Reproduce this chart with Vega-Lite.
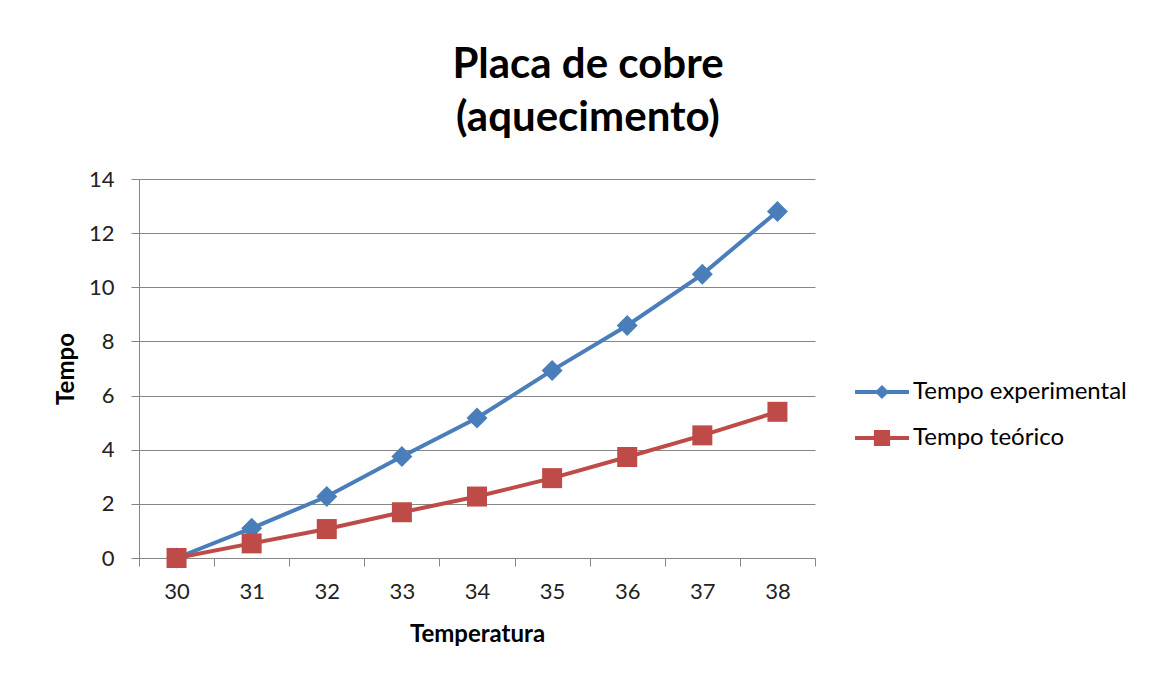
{
  "$schema": "https://vega.github.io/schema/vega-lite/v6.json",
  "autosize": "none",
  "width": 676,
  "height": 379,
  "padding": {"left": 139, "top": 179, "right": 353, "bottom": 117},
  "background": "white",
  "title": {
    "text": ["Placa de cobre", "(aquecimento)"],
    "font": "Lato",
    "fontSize": 42,
    "fontWeight": "bold",
    "color": "#000000",
    "anchor": "middle",
    "frame": "group",
    "dx": 111,
    "offset": 28,
    "lineHeight": 53
  },
  "data": {
    "values": [
      {"t": "30", "serie": "Tempo experimental", "v": 0},
      {"t": "31", "serie": "Tempo experimental", "v": 1.1},
      {"t": "32", "serie": "Tempo experimental", "v": 2.27},
      {"t": "33", "serie": "Tempo experimental", "v": 3.75},
      {"t": "34", "serie": "Tempo experimental", "v": 5.17},
      {"t": "35", "serie": "Tempo experimental", "v": 6.93},
      {"t": "36", "serie": "Tempo experimental", "v": 8.59},
      {"t": "37", "serie": "Tempo experimental", "v": 10.48},
      {"t": "38", "serie": "Tempo experimental", "v": 12.8},
      {"t": "30", "serie": "Tempo teórico", "v": 0},
      {"t": "31", "serie": "Tempo teórico", "v": 0.54},
      {"t": "32", "serie": "Tempo teórico", "v": 1.07},
      {"t": "33", "serie": "Tempo teórico", "v": 1.69},
      {"t": "34", "serie": "Tempo teórico", "v": 2.27},
      {"t": "35", "serie": "Tempo teórico", "v": 2.95},
      {"t": "36", "serie": "Tempo teórico", "v": 3.73},
      {"t": "37", "serie": "Tempo teórico", "v": 4.53},
      {"t": "38", "serie": "Tempo teórico", "v": 5.4}
    ]
  },
  "encoding": {
    "x": {
      "field": "t",
      "type": "ordinal",
      "bandPosition": 0.5,
      "scale": {"type": "band", "paddingInner": 0, "paddingOuter": 0},
      "axis": {
        "title": "Temperatura",
        "tickBand": "extent",
        "labelAngle": 0,
        "grid": false,
        "tickSize": 8,
        "labelPadding": 15,
        "titlePadding": 20
      }
    },
    "y": {
      "field": "v",
      "type": "quantitative",
      "scale": {"domain": [0, 14], "nice": false, "zero": true},
      "axis": {
        "title": "Tempo",
        "values": [0, 2, 4, 6, 8, 10, 12, 14],
        "grid": true,
        "tickSize": 8,
        "labelPadding": 17,
        "titlePadding": 10
      }
    },
    "color": {
      "field": "serie",
      "type": "nominal",
      "scale": {
        "domain": ["Tempo experimental", "Tempo teórico"],
        "range": ["#4A7EBB", "#BE4B48"]
      },
      "legend": {
        "title": null,
        "orient": "none",
        "legendX": 716,
        "legendY": 186,
        "padding": 0,
        "rowPadding": 7,
        "symbolSize": 2916,
        "symbolType": "M-1,-0.075H1V0.075H-1Z",
        "symbolStrokeWidth": 0,
        "symbolOpacity": 1,
        "labelFont": "Lato",
        "labelFontSize": 24,
        "labelColor": "#000000",
        "labelOffset": 4,
        "labelLimit": 400,
        "encode": {
          "symbols": {
            "update": {
              "shape": {
                "signal": "datum.value === 'Tempo experimental' ? 'M-1,-0.075H1V0.075H-1Z M-0.26,0L0,-0.26L0.26,0L0,0.26Z' : 'M-1,-0.075H1V0.075H-1Z M-0.3,-0.3H0.3V0.3H-0.3Z'"
              },
              "size": {"value": 2916},
              "fill": {
                "signal": "datum.value === 'Tempo experimental' ? '#4A7EBB' : '#BE4B48'"
              },
              "fillOpacity": {"value": 1},
              "strokeWidth": {"value": 0}
            }
          }
        }
      }
    }
  },
  "layer": [
    {
      "mark": {"type": "line", "strokeWidth": 4}
    },
    {
      "transform": [{"filter": "datum.serie === 'Tempo experimental'"}],
      "mark": {"type": "point", "shape": "diamond", "size": 440, "filled": true, "opacity": 1, "strokeWidth": 0}
    },
    {
      "transform": [{"filter": "datum.serie === 'Tempo teórico'"}],
      "mark": {"type": "point", "shape": "square", "size": 400, "filled": true, "opacity": 1, "strokeWidth": 0}
    }
  ],
  "config": {
    "view": {"stroke": null},
    "axis": {
      "domainColor": "#868686",
      "tickColor": "#868686",
      "gridColor": "#868686",
      "gridOpacity": 1,
      "domainWidth": 1,
      "labelFont": "Lato",
      "labelFontSize": 22,
      "labelColor": "#222222",
      "titleFont": "Lato",
      "titleFontSize": 24,
      "titleFontWeight": "bold",
      "titleColor": "#000000"
    }
  }
}
